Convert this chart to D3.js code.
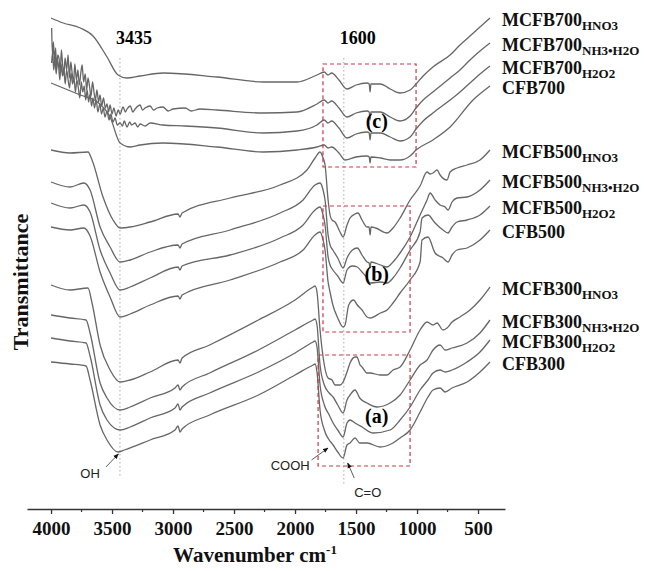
<!DOCTYPE html>
<html>
<head>
<meta charset="utf-8">
<script src="https://cdn.jsdelivr.net/npm/d3@7"></script>
<style>
  body { margin: 0; background: #fff; }
  svg text { font-family: "Liberation Serif", "Times New Roman", serif; }
</style>
</head>
<body>
<div id="canvas"></div>
<script>
// FTIR spectra, [wavenumber cm-1, transmittance (arb. units, stacked offset)]
var mcfb700_hno3 = [[4000,492],[3900,487],[3760,482],[3656,474],[3541,453],[3451,435],[3380,432],[3270,434],[3080,437],[2640,433],[2260,428],[1984,428],[1820,435],[1760,438],[1730,435],[1700,437],[1640,430],[1575,421],[1500,425],[1410,427],[1392,426],[1385,418],[1378,426],[1300,426],[1220,421],[1140,417],[1057,420],[1008,426],[950,434],[870,443],[729,455],[648,465],[566,474],[484,483],[402,492]];
var mcfb700_nh3 = [[3995,482],[3988,455],[3980,468],[3972,447],[3962,462],[3955,440],[3945,455],[3935,452],[3925,438],[3915,460],[3905,445],[3895,435],[3885,452],[3872,440],[3860,455],[3850,432],[3838,448],[3828,438],[3815,428],[3805,446],[3792,430],[3780,440],[3768,425],[3756,437],[3745,445],[3733,428],[3720,436],[3708,420],[3697,432],[3685,424],[3672,414],[3660,428],[3648,418],[3636,410],[3624,420],[3610,408],[3598,415],[3585,404],[3570,412],[3555,402],[3541,406],[3528,398],[3516,405],[3500,396],[3485,402],[3467,394],[3450,400],[3434,396],[3410,403],[3390,398],[3377,401],[3350,404],[3330,398],[3311,401],[3270,405],[3250,400],[3229,402],[3188,404],[3160,400],[3130,402],[3082,403],[3040,399],[3000,401],[2900,402],[2850,399],[2780,401],[2640,400],[2262,397],[1984,398],[1820,406],[1760,410],[1730,407],[1700,409],[1640,402],[1575,393],[1500,397],[1410,399],[1392,398],[1385,390],[1378,398],[1300,398],[1220,393],[1140,389],[1057,394],[1008,402],[950,410],[870,418],[729,432],[648,440],[566,450],[484,459],[402,467]];
var mcfb700_h2o2 = [[3995,447],[3987,458],[3978,440],[3968,452],[3958,436],[3948,449],[3938,444],[3928,430],[3918,446],[3906,434],[3896,442],[3884,426],[3872,440],[3860,430],[3848,422],[3836,437],[3824,426],[3812,432],[3800,418],[3788,430],[3776,422],[3764,412],[3752,428],[3740,418],[3728,424],[3716,410],[3704,420],[3692,408],[3680,416],[3668,404],[3656,412],[3644,402],[3630,410],[3616,398],[3600,406],[3586,396],[3572,402],[3558,393],[3541,399],[3525,390],[3510,396],[3492,388],[3475,392],[3458,385],[3434,387],[3415,384],[3400,389],[3377,383],[3355,388],[3340,385],[3311,387],[3290,383],[3270,386],[3229,384],[3188,387],[3082,385],[2900,384],[2640,382],[2262,377],[1984,379],[1820,385],[1760,390],[1730,387],[1700,389],[1640,382],[1575,372],[1500,376],[1410,378],[1392,377],[1385,370],[1378,377],[1300,377],[1220,373],[1140,369],[1057,373],[1008,381],[950,389],[870,397],[729,410],[648,418],[566,427],[484,436],[402,444]];
var cfb700 = [[4000,427],[3900,422],[3760,415],[3620,408],[3516,393],[3434,367],[3350,363],[3270,365],[3082,367],[2640,363],[2262,358],[1984,360],[1820,363],[1760,365],[1730,362],[1700,363],[1640,357],[1590,350],[1500,353],[1410,354],[1392,353],[1385,347],[1378,353],[1300,352],[1220,350],[1140,350],[1057,354],[1008,360],[870,370],[729,383],[541,410],[402,424]];

var mcfb500_hno3 = [[4000,360],[3844,357],[3697,358],[3664,350],[3574,313],[3492,290],[3434,282],[3352,283],[3188,288],[2959,296],[2943,293],[2926,297],[2533,312],[2123,325],[1902,340],[1836,352],[1795,358],[1770,352],[1754,345],[1729,310],[1713,295],[1697,290],[1672,288],[1631,278],[1606,273],[1574,285],[1549,292],[1508,296],[1484,297],[1451,290],[1410,283],[1393,283],[1385,275],[1377,283],[1340,282],[1246,277],[1197,282],[1139,292],[1057,310],[975,324],[918,338],[893,336],[869,337],[836,340],[811,335],[754,330],[729,338],[672,342],[590,345],[484,350],[402,360]];
var mcfb500_nh3 = [[4000,328],[3844,323],[3730,327],[3680,320],[3598,283],[3516,263],[3434,248],[3352,250],[3188,258],[2959,265],[2943,262],[2926,266],[2533,280],[2123,297],[1934,310],[1836,325],[1795,327],[1770,320],[1754,310],[1729,275],[1713,265],[1690,260],[1650,252],[1606,242],[1574,252],[1530,260],[1490,262],[1451,255],[1410,248],[1393,247],[1385,242],[1377,248],[1300,245],[1246,243],[1197,248],[1139,257],[1057,273],[975,295],[918,310],[893,317],[852,310],[811,305],[770,303],[746,300],[713,308],[672,312],[590,313],[484,320],[402,330]];
var mcfb500_h2o2 = [[4000,307],[3844,302],[3730,305],[3680,298],[3598,260],[3516,237],[3434,220],[3352,223],[3188,232],[2959,243],[2943,240],[2926,244],[2533,255],[2123,272],[1934,285],[1836,300],[1795,303],[1770,295],[1754,285],[1729,253],[1713,245],[1690,240],[1650,234],[1606,227],[1574,240],[1530,244],[1490,243],[1451,238],[1410,232],[1385,227],[1300,228],[1246,227],[1197,232],[1139,242],[1057,260],[975,278],[959,292],[910,295],[852,287],[787,280],[746,277],[713,283],[672,288],[590,290],[484,295],[402,304]];
var cfb500 = [[4000,283],[3844,280],[3730,282],[3680,274],[3598,238],[3516,213],[3434,193],[3352,196],[3188,205],[2959,214],[2943,211],[2926,215],[2533,230],[2123,248],[1934,260],[1836,275],[1795,278],[1770,270],[1754,260],[1729,228],[1713,218],[1690,205],[1650,192],[1606,183],[1590,185],[1560,205],[1520,210],[1490,205],[1451,200],[1410,193],[1385,192],[1300,197],[1246,200],[1197,207],[1139,217],[1057,230],[975,248],[959,270],[910,273],[852,257],[787,252],[746,248],[713,255],[672,260],[590,262],[484,270],[402,280]];

var mcfb300_hno3 = [[4000,225],[3844,220],[3697,222],[3664,207],[3598,165],[3516,140],[3434,128],[3352,130],[3188,138],[2959,150],[2943,147],[2926,152],[2700,165],[2300,190],[2000,210],[1852,223],[1836,224],[1820,218],[1795,180],[1760,145],[1729,132],[1697,130],[1672,125],[1631,125],[1606,128],[1574,138],[1549,147],[1508,153],[1492,153],[1467,145],[1451,143],[1410,137],[1385,137],[1303,135],[1246,135],[1197,140],[1139,143],[1057,160],[975,180],[918,188],[869,185],[836,187],[787,180],[754,182],[713,188],[648,193],[566,200],[484,210],[402,223]];
var mcfb300_nh3 = [[4000,195],[3844,192],[3713,190],[3680,177],[3598,127],[3541,112],[3434,100],[3352,103],[3188,112],[2984,122],[2959,125],[2943,120],[2926,123],[2700,137],[2300,160],[2000,180],[1852,190],[1836,191],[1820,185],[1795,145],[1760,125],[1720,117],[1688,113],[1650,105],[1606,97],[1574,110],[1549,115],[1508,120],[1470,112],[1410,107],[1328,103],[1221,107],[1139,115],[1057,130],[975,145],[918,150],[869,160],[811,165],[770,160],[713,162],[590,167],[484,177],[402,190]];
var mcfb300_h2o2 = [[4000,172],[3844,169],[3713,167],[3680,154],[3598,105],[3541,90],[3434,80],[3352,83],[3188,92],[2984,102],[2959,106],[2943,100],[2926,103],[2700,117],[2300,138],[2000,157],[1852,168],[1836,169],[1820,163],[1795,125],[1760,105],[1720,95],[1688,87],[1650,80],[1606,73],[1574,87],[1549,90],[1508,87],[1450,83],[1360,77],[1221,80],[1139,90],[1057,103],[975,120],[910,130],[869,137],[811,140],[770,138],[713,140],[590,148],[484,158],[402,170]];
var cfb300 = [[4000,148],[3844,146],[3713,144],[3680,130],[3598,85],[3541,70],[3451,58],[3400,60],[3188,70],[2984,80],[2959,84],[2943,78],[2926,81],[2700,95],[2300,115],[2000,135],[1852,145],[1836,146],[1820,138],[1795,100],[1760,80],[1720,70],[1688,65],[1650,58],[1606,52],[1574,65],[1549,67],[1508,72],[1470,67],[1410,67],[1303,63],[1197,67],[1139,72],[1057,80],[975,98],[910,113],[869,120],[811,122],[770,118],[713,122],[590,128],[484,138],[402,148]];

var spectra = [mcfb700_hno3, mcfb700_nh3, mcfb700_h2o2, cfb700,
               mcfb500_hno3, mcfb500_nh3, mcfb500_h2o2, cfb500,
               mcfb300_hno3, mcfb300_nh3, mcfb300_h2o2, cfb300];
var labelMain = ["MCFB700", "MCFB700", "MCFB700", "CFB700",
                 "MCFB500", "MCFB500", "MCFB500", "CFB500",
                 "MCFB300", "MCFB300", "MCFB300", "CFB300"];
var labelSub = ["HNO3", "NH3\u2022H2O", "H2O2", "",
                "HNO3", "NH3\u2022H2O", "H2O2", "",
                "HNO3", "NH3\u2022H2O", "H2O2", ""];

var xTicks = [4000, 3500, 3000, 2500, 2000, 1500, 1000, 500];
var xMinor = [3750, 3250, 2750, 2250, 1750, 1250, 750];
var bandLines = [3435, 1600];

// dashed zoom boxes, in wavenumber / transmittance units
var boxes = [
  { w: [1771, 1008], t: [446, 343], tag: "(c)" },
  { w: [1771, 1057], t: [304, 178], tag: "(b)" },
  { w: [1811, 1057], t: [155, 44], tag: "(a)" }
];

var width = 648, height = 571;

var svg = d3.select("div#canvas").append("svg")
  .attr("width", width)
  .attr("height", height);

var x = d3.scaleLinear().domain([4197, 279]).range([27, 505]);
var y = d3.scaleLinear().domain([0, 500]).range([510, 10]);

svg.append("defs").append("marker")
  .attr("id", "arrow")
  .attr("viewBox", "0 0 10 10")
  .attr("refX", 9).attr("refY", 5)
  .attr("markerWidth", 7).attr("markerHeight", 7)
  .attr("orient", "auto")
  .append("path")
  .attr("d", "M0,1 L10,5 L0,9 z")
  .attr("fill", "#111");

// band position guides
svg.selectAll("line.band")
  .data(bandLines)
  .enter().append("line")
  .attr("class", "band")
  .attr("x1", function(d) { return x(d); })
  .attr("x2", function(d) { return x(d); })
  .attr("y1", y(452))
  .attr("y2", function(d, i) { return i == 0 ? y(32) : y(25); })
  .attr("stroke", "#aaa")
  .attr("stroke-width", 1)
  .attr("stroke-dasharray", "1.5,2.5");

svg.selectAll("text.band")
  .data(bandLines)
  .enter().append("text")
  .attr("class", "band")
  .attr("x", function(d) { return x(d) + 14; })
  .attr("y", y(466))
  .attr("text-anchor", "middle")
  .attr("font-size", 18)
  .attr("font-weight", "bold")
  .text(function(d) { return d; });

// spectra
var line = d3.line()
  .x(function(d) { return x(d[0]); })
  .y(function(d) { return y(d[1]); })
  .curve(d3.curveMonotoneX);

svg.selectAll("path.spec")
  .data(spectra)
  .enter().append("path")
  .attr("class", "spec")
  .attr("d", line)
  .attr("fill", "none")
  .attr("stroke", "#666")
  .attr("stroke-width", 1.3)
  .attr("stroke-linejoin", "round");

// boxes
svg.selectAll("rect.box")
  .data(boxes)
  .enter().append("rect")
  .attr("class", "box")
  .attr("x", function(d) { return x(d.w[0]); })
  .attr("y", function(d) { return y(d.t[0]); })
  .attr("width", function(d) { return x(d.w[1]) - x(d.w[0]); })
  .attr("height", function(d) { return y(d.t[1]) - y(d.t[0]); })
  .attr("fill", "none")
  .attr("stroke", "#c8384a")
  .attr("stroke-width", 1.2)
  .attr("stroke-dasharray", "4,3");

svg.selectAll("text.tag")
  .data(boxes)
  .enter().append("text")
  .attr("class", "tag")
  .attr("x", x(1330))
  .attr("y", function(d) { return y((d.t[0] + d.t[1]) / 2) + 12; })
  .attr("text-anchor", "middle")
  .attr("font-size", 20)
  .attr("font-weight", "bold")
  .text(function(d) { return d.tag; });

// sample labels at the right end of each curve
spectra.forEach(function(s, i) {
  var last = s[s.length - 1];
  var t = svg.append("text")
    .attr("x", 502)
    .attr("y", y(last[1]) + 8)
    .attr("font-size", 18)
    .attr("font-weight", "bold")
    .attr("fill", "#111");
  t.append("tspan").text(labelMain[i]);
  if (labelSub[i]) {
    t.append("tspan").attr("dy", 4).attr("font-size", 13).text(labelSub[i]);
  }
});

// group annotations
var notes = [
  { text: "OH", at: [3680, 32], anchor: "middle", from: [3550, 43], to: [3448, 56] },
  { text: "COOH", at: [1880, 40], anchor: "end", from: [1865, 50], to: [1730, 62] },
  { text: "C=O", at: [1515, 13], anchor: "start", from: [1515, 32], to: [1568, 47] }
];

svg.selectAll("line.note")
  .data(notes)
  .enter().append("line")
  .attr("class", "note")
  .attr("x1", function(d) { return x(d.from[0]); })
  .attr("y1", function(d) { return y(d.from[1]); })
  .attr("x2", function(d) { return x(d.to[0]); })
  .attr("y2", function(d) { return y(d.to[1]); })
  .attr("stroke", "#333")
  .attr("stroke-width", 0.8)
  .attr("marker-end", "url(#arrow)");

svg.selectAll("text.note")
  .data(notes)
  .enter().append("text")
  .attr("class", "note")
  .attr("x", function(d) { return x(d.at[0]); })
  .attr("y", function(d) { return y(d.at[1]); })
  .attr("text-anchor", function(d) { return d.anchor; })
  .style("font-family", "'Liberation Sans', Arial, sans-serif")
  .attr("font-size", 13)
  .attr("fill", "#222")
  .text(function(d) { return d.text; });

// x axis
var axisG = svg.append("g")
  .attr("transform", "translate(0," + 509 + ")")
  .call(d3.axisBottom(x).tickValues(xTicks).tickFormat(d3.format("d"))
    .tickSize(5).tickSizeOuter(0).tickPadding(8));

axisG.select(".domain").attr("stroke", "#333").attr("stroke-width", 1.6);
axisG.selectAll(".tick line").attr("stroke", "#333").attr("stroke-width", 1.3);
axisG.selectAll(".tick text")
  .attr("font-size", 19)
  .attr("font-weight", "bold")
  .attr("fill", "#111")
  .style("font-family", "'Liberation Serif', 'Times New Roman', serif");

axisG.selectAll("line.minor")
  .data(xMinor)
  .enter().append("line")
  .attr("class", "minor")
  .attr("x1", function(d) { return x(d); })
  .attr("x2", function(d) { return x(d); })
  .attr("y1", 0).attr("y2", 3)
  .attr("stroke", "#333")
  .attr("stroke-width", 1.2);

// axis titles
var xt = svg.append("text")
  .attr("x", 255)
  .attr("y", 562)
  .attr("text-anchor", "middle")
  .attr("font-size", 21)
  .attr("font-weight", "bold")
  .attr("fill", "#111");
xt.append("tspan").text("Wavenumber cm");
xt.append("tspan").attr("dy", -8).attr("font-size", 13).text("-1");

svg.append("text")
  .attr("transform", "translate(28,282) rotate(-90)")
  .attr("text-anchor", "middle")
  .attr("font-size", 22)
  .attr("font-weight", "bold")
  .attr("fill", "#111")
  .text("Transmittance");
</script>
</body>
</html>
